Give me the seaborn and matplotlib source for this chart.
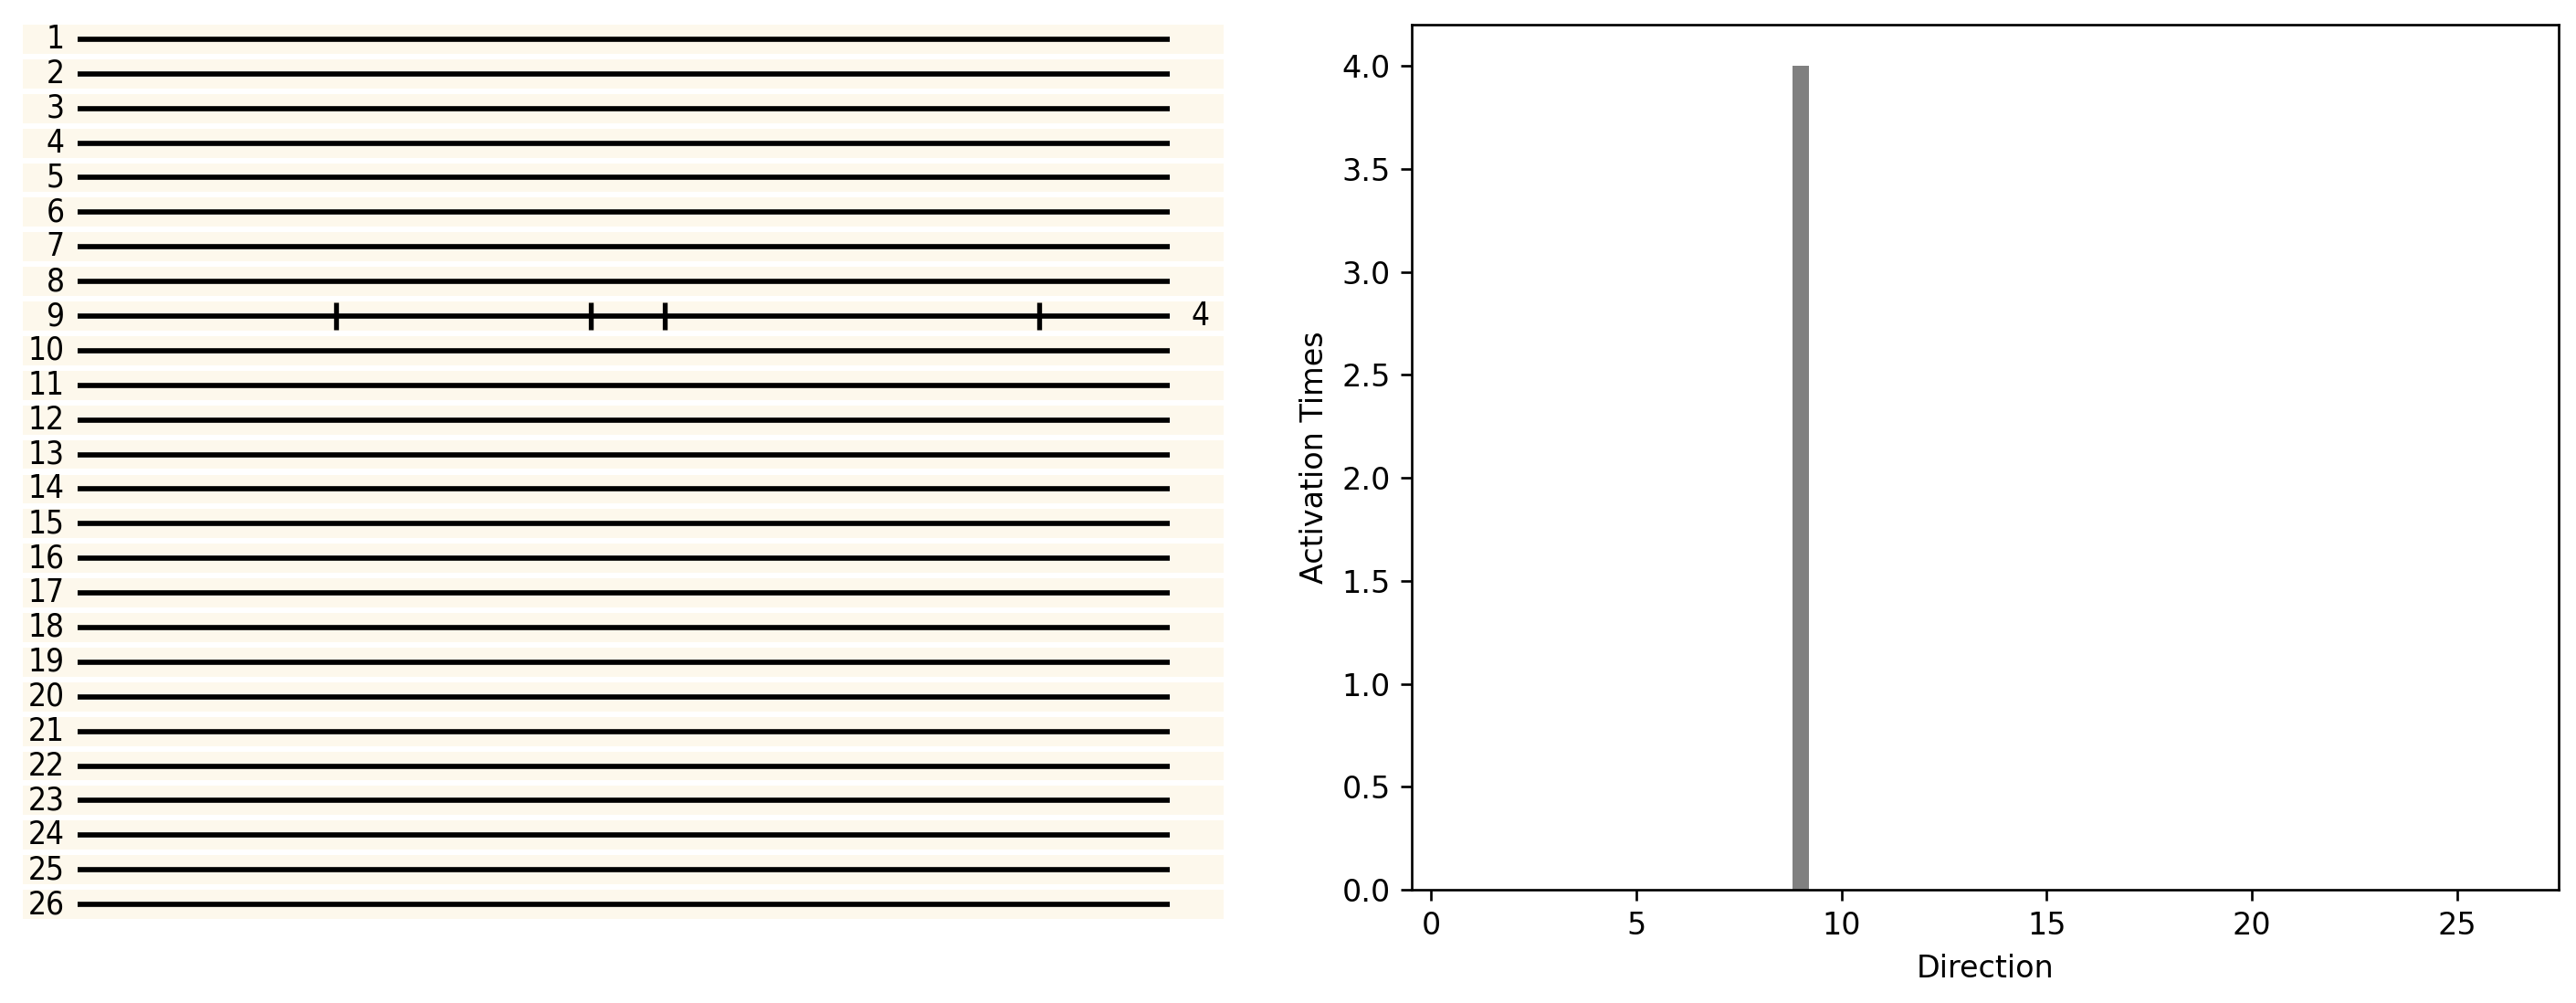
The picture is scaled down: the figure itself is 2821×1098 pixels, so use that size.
import numpy as np
import pandas as pd
import matplotlib
matplotlib.use("Agg")
import matplotlib.pyplot as plt
import seaborn as sns

# Data
rows = list(range(1, 27))
active_row = 9
spike_times = [23.7, 47.0, 53.8, 88.0]
t_end = 100

directions = list(range(1, 27))
counts = [0] * 26
counts[active_row - 1] = 4

df = pd.DataFrame({"Direction": directions, "Activation Times": counts})

fig = plt.figure(figsize=(2821 / 240, 1098 / 240), dpi=240)

narrow = ["Liberation Sans Narrow", "DejaVu Sans"]

# ---------------------------------------------------------
# Left: spike raster per direction
ax1 = fig.add_axes([25 / 2821, 1 - 1009 / 1098, 1315 / 2821, 985 / 1098])
cream = "#fdf8ec"
for r in rows:
    ax1.axhspan(r - 0.42, r + 0.42, color=cream, lw=0)
ax1.hlines(rows, 0, t_end, color="black", lw=1.7)
ax1.eventplot(spike_times, lineoffsets=active_row, linelengths=0.8,
              colors="black", linewidths=1.6)
for r in rows:
    ax1.text(-1.2, r, str(r), ha="right", va="center", fontsize=10.5,
             family=narrow, fontstretch="condensed")
ax1.text(102.0, active_row, str(len(spike_times)), ha="left", va="center",
         fontsize=10.5, family=narrow, fontstretch="condensed")
ax1.set_xlim(-5.02, 104.93)
ax1.set_ylim(26.5, 0.5)
ax1.axis("off")

# ---------------------------------------------------------
# Right: activation count histogram
ax2 = fig.add_axes([1546 / 2821, 1 - 974 / 1098, 1256 / 2821, 947 / 1098])
sns.barplot(data=df, x="Direction", y="Activation Times", native_scale=True,
            width=0.4, color="gray", saturation=1, linewidth=0, ax=ax2)
ax2.set_xticks([0, 5, 10, 15, 20, 25])
ax2.set_xlim(-0.47, 27.47)
ax2.set_ylim(0, 4.2)
ax2.set_xlabel("Direction")
ax2.set_ylabel("Activation Times")

fig.savefig("out.png", dpi=240)
